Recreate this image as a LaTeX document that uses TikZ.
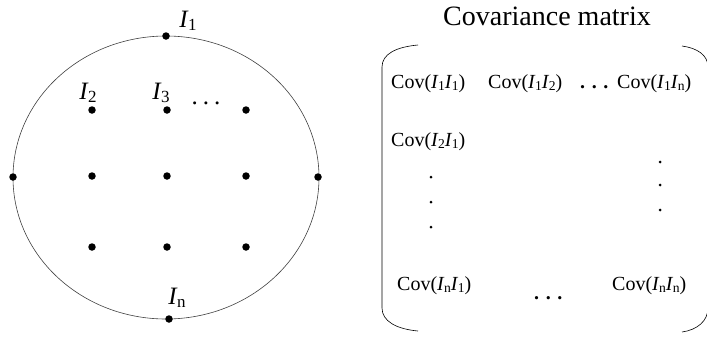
\documentclass[tikz,border=0pt]{standalone}
\usepackage{fontspec}
\setmainfont{Liberation Serif}
\usetikzlibrary{positioning}

% italic I with a lowered upright index
\newcommand{\Iidx}[1]{\textit{I}\kern-0.5pt\raisebox{-0.3ex}{\scalebox{0.68}{#1}}}
\newcommand{\cov}[2]{Cov(\Iidx{#1}\Iidx{#2})}
\newcommand{\threedots}{\textbf{.\kern0.33em.\kern0.33em.}}

\tikzset{
  dot/.style={circle,fill=black,inner sep=0pt,minimum size=7.5pt},
  smalldot/.style={circle,fill=black,inner sep=0pt,minimum size=3pt},
  lbl/.style={inner sep=0pt,font=\fontsize{25}{27}\selectfont},
  entry/.style={inner sep=0pt,anchor=base west,font=\fontsize{20}{22}\selectfont},
}

\begin{document}
\begin{tikzpicture}[x=1pt,y=-1pt]
    \clip (0,0) rectangle (707,338);

    % electrode plane
    \draw[black!75,line width=0.6pt] (166,177.5) ellipse [x radius=153, y radius=141.5];
    \node[dot] (top) at (166,36) {};
    \node[dot] (bottom) at (169,319) {};
    \node[dot] (left) at (13,177) {};
    \node[dot] (right) at (318,177) {};
    \foreach \c/\x in {1/92,2/167,3/246}
      \foreach \r/\y in {1/110,2/176,3/247}
        \node[dot] (g\r\c) at (\x,\y) {};

    \node[lbl] (l1) at (188,21) {\Iidx{1}};
    \node[lbl] (l2) at (88,93) {\Iidx{2}};
    \node[lbl] (l3) at (161,93) {\Iidx{3}};
    \node[lbl,anchor=base] (ld) at (206,104) {.\kern0.2em.\kern0.2em.};
    \node[lbl] (ln) at (177,298) {\Iidx{n}};

    % covariance matrix
    \node[inner sep=0pt,anchor=base,font=\fontsize{28}{30}\selectfont] (title) at (547,25) {Covariance matrix};

    \node[entry] (c11) at (391,88) {\cov{1}{1}};
    \node[entry] (c12) at (488,88) {\cov{1}{2}};
    \node[entry] (rdots) at (580,88) {\threedots};
    \node[entry] (c1n) at (617,88) {\cov{1}{n}};
    \node[entry] (c21) at (391,146) {\cov{2}{1}};
    \node[entry] (cn1) at (397,290) {\cov{n}{1}};
    \node[entry] (bdots) at (534,299) {\threedots};
    \node[entry] (cnn) at (612,290) {\cov{n}{n}};

    \foreach \y [count=\i] in {177,202,227}
      \node[smalldot] (lv\i) at (431,\y) {};
    \foreach \y [count=\i] in {162,185,210}
      \node[smalldot] (rv\i) at (660,\y) {};

    % brackets
    \draw[line width=0.6pt] (418,45) .. controls (396,47) and (382,54) .. (382,67)
        -- (382,308) .. controls (382,321) and (396,329) .. (418,331);
    \draw[line width=0.6pt] (682,46) .. controls (697,48) and (708,55) .. (708,67)
        -- (708,308) .. controls (708,321) and (697,330) .. (682,332);
\end{tikzpicture}
\end{document}
